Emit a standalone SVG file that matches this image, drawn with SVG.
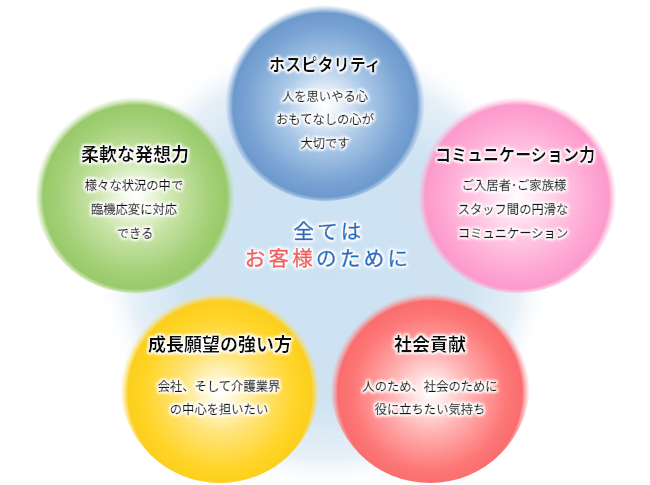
<svg xmlns="http://www.w3.org/2000/svg" width="650" height="485" viewBox="0 0 650 485">
<defs>
<style>
text{font-family:"Noto Sans CJK JP","Noto Sans CJK SC",sans-serif;text-anchor:middle;fill:#1a1a1a}
.t{font-size:18px;font-weight:bold;fill:#111}
.b{font-size:12.3px;fill:#141414;stroke:#141414;stroke-width:0.3px}
.c{font-size:20.5px;letter-spacing:3.3px;stroke-width:0.5px}
.blu{fill:#1a6fc4;stroke:#1a6fc4}
.red{fill:#f25c5c;stroke:#f25c5c}
</style>
<filter id="glow" x="-20%" y="-60%" width="140%" height="220%">
<feMorphology in="SourceAlpha" operator="dilate" radius="1.2" result="d"/>
<feGaussianBlur in="d" stdDeviation="1.6" result="bl"/>
<feFlood flood-color="#ffffff"/>
<feComposite in2="bl" operator="in" result="w"/>
<feMerge><feMergeNode in="w"/><feMergeNode in="w"/><feMergeNode in="SourceGraphic"/></feMerge>
</filter>
<radialGradient id="bg" cx="0.5" cy="0.5" r="0.5">
<stop offset="0" stop-color="#cce2f2"/>
<stop offset="0.62" stop-color="#cfe3f2"/>
<stop offset="0.85" stop-color="#e6f0f8"/>
<stop offset="1" stop-color="#ffffff" stop-opacity="0"/>
</radialGradient>
<radialGradient id="gBlue" cx="0.5" cy="0.52" r="0.5">
<stop offset="0" stop-color="#ffffff"/>
<stop offset="0.1" stop-color="#f0f5fb"/>
<stop offset="0.42" stop-color="#abc9e8"/>
<stop offset="0.78" stop-color="#79a3d3"/>
<stop offset="0.92" stop-color="#6d99cd"/>
<stop offset="1" stop-color="#8fb3dc" stop-opacity="0"/>
</radialGradient>
<radialGradient id="gGreen" cx="0.5" cy="0.52" r="0.5">
<stop offset="0" stop-color="#ffffff"/>
<stop offset="0.1" stop-color="#f4faec"/>
<stop offset="0.42" stop-color="#c7e3a5"/>
<stop offset="0.78" stop-color="#a2cf75"/>
<stop offset="0.92" stop-color="#99ca6a"/>
<stop offset="1" stop-color="#b7db94" stop-opacity="0"/>
</radialGradient>
<radialGradient id="gPink" cx="0.5" cy="0.52" r="0.5">
<stop offset="0" stop-color="#ffffff"/>
<stop offset="0.1" stop-color="#fff0f8"/>
<stop offset="0.42" stop-color="#ffc8e4"/>
<stop offset="0.78" stop-color="#fea4d2"/>
<stop offset="0.92" stop-color="#fb9acb"/>
<stop offset="1" stop-color="#ffc0e0" stop-opacity="0"/>
</radialGradient>
<radialGradient id="gYellow" cx="0.5" cy="0.55" r="0.5">
<stop offset="0" stop-color="#ffffff"/>
<stop offset="0.1" stop-color="#fffae2"/>
<stop offset="0.42" stop-color="#ffe376"/>
<stop offset="0.78" stop-color="#ffd424"/>
<stop offset="0.92" stop-color="#fccf1e"/>
<stop offset="1" stop-color="#ffe070" stop-opacity="0"/>
</radialGradient>
<radialGradient id="gRed" cx="0.5" cy="0.55" r="0.5">
<stop offset="0" stop-color="#ffffff"/>
<stop offset="0.1" stop-color="#ffeeee"/>
<stop offset="0.42" stop-color="#ffaeae"/>
<stop offset="0.78" stop-color="#fd7676"/>
<stop offset="0.92" stop-color="#fa6d6e"/>
<stop offset="1" stop-color="#ff9a9a" stop-opacity="0"/>
</radialGradient>
</defs>
<rect width="650" height="485" fill="#ffffff"/>
<circle cx="325" cy="262" r="230" fill="url(#bg)"/>
<g id="connectors"/>
<g id="center" filter="url(#glow)">
<text class="c blu" x="329" y="239">全ては</text>
<text class="c" x="328" y="266"><tspan class="red">お客様</tspan><tspan class="blu">のために</tspan></text>
</g>
<g id="hospitality">
<circle cx="325" cy="101" r="100" fill="url(#gBlue)"/>
<g filter="url(#glow)">
<text class="t" x="325" y="71" textLength="112" lengthAdjust="spacingAndGlyphs" style="font-size:17px">ホスピタリティ</text>
<text class="b" x="325" y="101">人を思いやる心</text>
<text class="b" x="325" y="124">おもてなしの心が</text>
<text class="b" x="325" y="148">大切です</text>
</g>
</g>
<g id="flexible">
<circle cx="135" cy="193" r="100" fill="url(#gGreen)"/>
<g filter="url(#glow)">
<text class="t" x="135" y="161">柔軟な発想力</text>
<text class="b" x="134" y="190">様々な状況の中で</text>
<text class="b" x="134" y="214">臨機応変に対応</text>
<text class="b" x="135" y="238">できる</text>
</g>
</g>
<g id="communication">
<circle cx="517" cy="193" r="100" fill="url(#gPink)"/>
<g filter="url(#glow)">
<text class="t" x="515" y="161" textLength="160" lengthAdjust="spacingAndGlyphs" style="font-size:17px">コミュニケーション力</text>
<text class="b" x="514" y="190">ご入居者･ご家族様</text>
<text class="b" x="513" y="214">スタッフ間の円滑な</text>
<text class="b" x="513" y="238">コミュニケーション</text>
</g>
</g>
<g id="growth">
<circle cx="220" cy="383" r="100" fill="url(#gYellow)"/>
<g filter="url(#glow)">
<text class="t" x="220" y="351">成長願望の強い方</text>
<text class="b" x="219" y="391">会社、そして介護業界</text>
<text class="b" x="219" y="414">の中心を担いたい</text>
</g>
</g>
<g id="contribution">
<circle cx="430" cy="383" r="100" fill="url(#gRed)"/>
<g filter="url(#glow)">
<text class="t" x="430" y="351">社会貢献</text>
<text class="b" x="430" y="391">人のため、社会のために</text>
<text class="b" x="430" y="414">役に立ちたい気持ち</text>
</g>
</g>
</svg>
